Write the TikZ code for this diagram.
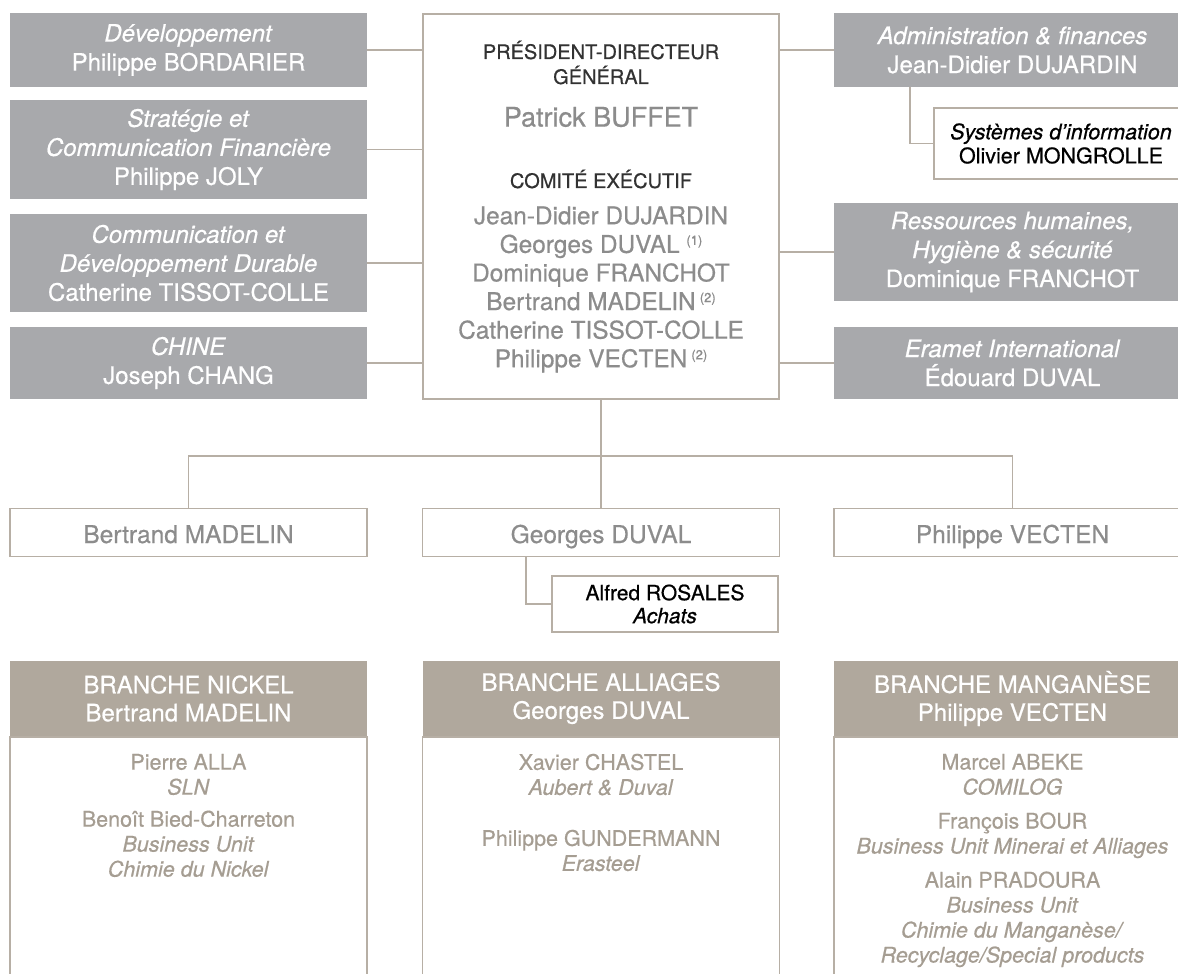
\documentclass[tikz,border=0pt]{standalone}
\usepackage{fontspec}
\setmainfont{TeX Gyre Heros}[FakeBold=0.6]
\usetikzlibrary{calc, positioning}

\definecolor{boxgray}{RGB}{168,169,172}
\definecolor{taupe}{RGB}{183,175,165}
\definecolor{headtaupe}{RGB}{176,168,157}
\definecolor{bodytaupe}{RGB}{165,157,146}
\definecolor{namegray}{RGB}{140,140,140}
\definecolor{darktext}{RGB}{50,50,50}

\newcommand{\comexnote}[1]{\raisebox{8pt}{\fontsize{13}{13}\selectfont(#1)}}

\begin{document}
\begin{tikzpicture}[x=1pt, y=-1pt,
        service/.style={rectangle, fill=boxgray, text=white, minimum width=357pt, inner sep=0pt, align=center, font=\fontsize{24}{29}\selectfont},
        mainbox/.style={rectangle, draw=taupe, line width=1.5pt, minimum width=356pt, minimum height=385pt, inner sep=0pt},
        subbox/.style={rectangle, draw=taupe, line width=1.5pt, fill=white, text=black, inner sep=0pt, align=center, font=\fontsize{21.5}{24}\selectfont},
        director/.style={rectangle, draw=taupe, line width=1.5pt, text=namegray, minimum width=357pt, minimum height=48pt, inner sep=0pt, text height=21pt, text depth=0pt, font=\fontsize{24.5}{26}\selectfont},
        headtext/.style={text=darktext, align=center, inner sep=0pt, font=\fontsize{20}{25}\selectfont},
        nametext/.style={text=namegray, align=center, inner sep=0pt, font=\fontsize{24.4}{28.6}\selectfont},
        branchhead/.style={rectangle, fill=headtaupe, text=white, minimum width=357pt, minimum height=75pt, inner sep=0pt, align=center, font=\fontsize{24}{28}\selectfont},
        branchbody/.style={rectangle, draw=taupe, line width=1.5pt, minimum width=357pt, minimum height=260pt, inner sep=0pt},
        branchtext/.style={text=bodytaupe, align=center, inner sep=0pt, font=\fontsize{21.5}{25}\selectfont},
        link/.style={draw=taupe, line width=1.5pt},
        ]

    \useasboundingbox (0, 0) rectangle (1178, 974);
    \clip (0, 0) rectangle (1178, 974);

    % left column
    \node (dev) at (188.5, 50) [service, minimum height=74pt] {\textit{Développement}\\Philippe BORDARIER};
    \node (strat) at (188.5, 149.5) [service, minimum height=99pt] {\textit{Stratégie et}\\\textit{Communication Financière}\\Philippe JOLY};
    \node (comdd) at (188.5, 263) [service, minimum height=98pt] {\textit{Communication et}\\\textit{Développement Durable}\\Catherine TISSOT-COLLE};
    \node (chine) at (188.5, 363) [service, minimum height=72pt] {\textit{CHINE}\\Joseph CHANG};

    % president and executive committee
    \node (pdg) at (601, 206.5) [mainbox] {};
    \node (pdgtitle) at (601, 62.5) [headtext] {PRÉSIDENT-DIRECTEUR\\GÉNÉRAL};
    \node (pdgname) at (601, 117) [nametext, font=\fontsize{27}{30}\selectfont] {Patrick BUFFET};
    \node (comex) at (601, 179) [headtext] {COMITÉ EXÉCUTIF};
    \node (comexlist) at (601, 289.5) [nametext] {Jean-Didier DUJARDIN\\Georges DUVAL \comexnote{1}\\Dominique FRANCHOT\\Bertrand MADELIN\,\comexnote{2}\\Catherine TISSOT-COLLE\\Philippe VECTEN\,\comexnote{2}};

    % right column
    \node (admin) at (1012.5, 50) [service, minimum height=74pt] {\textit{Administration \& finances}\\Jean-Didier DUJARDIN};
    \node (si) at (1061, 143.5) [subbox, minimum width=254pt, minimum height=71pt] {\textit{Systèmes d’information}\\Olivier MONGROLLE};
    \node (rh) at (1012.5, 252) [service, minimum height=98pt] {\textit{Ressources humaines,}\\\textit{Hygiène \& sécurité}\\Dominique FRANCHOT};
    \node (intl) at (1012.5, 363) [service, minimum height=72pt] {\textit{Eramet International}\\Édouard DUVAL};

    \draw [link] (dev.east) -- (dev.east -| pdg.west);
    \draw [link] (strat.east) -- (strat.east -| pdg.west);
    \draw [link] (comdd.east) -- (comdd.east -| pdg.west);
    \draw [link] (chine.east) -- (chine.east -| pdg.west);
    \draw [link] (admin.west -| pdg.east) -- (admin.west);
    \draw [link] (rh.west -| pdg.east) -- (rh.west);
    \draw [link] (intl.west -| pdg.east) -- (intl.west);
    \draw [link] ($(admin.south west) + (76, 0)$) |- (si.west);

    % operating directors
    \node (bm) at (188.5, 532.5) [director] {Bertrand MADELIN};
    \node (gd) at (601, 532.5) [director] {Georges DUVAL};
    \node (pv) at (1012.5, 532.5) [director] {Philippe VECTEN};
    \node (achats) at (665, 604) [subbox, minimum width=226pt, minimum height=56pt, font=\fontsize{21}{23}\selectfont] {Alfred ROSALES\\\textit{Achats}};

    \coordinate (hub) at (601, 456);
    \draw [link] (pdg.south) -- (gd.north);
    \draw [link] (bm.north) |- (hub) -| (pv.north);
    \draw [link] ($(gd.south west) + (104, 0)$) |- (achats.west);

    % branches
    \node (nihead) at (188.5, 698.5) [branchhead] {BRANCHE NICKEL\\Bertrand MADELIN};
    \node (nibody) [branchbody, below=0pt of nihead] {};
    \node (nistaff) at (188.5, 815.5) [branchtext] {Pierre ALLA\\\textit{SLN}\\[7pt]Benoît Bied-Charreton\\\textit{Business Unit}\\\textit{Chimie du Nickel}};

    \node (alhead) at (601, 698.5) [branchhead] {BRANCHE ALLIAGES\\Georges DUVAL};
    \node (albody) [branchbody, below=0pt of alhead] {};
    \node (alstaff) at (601, 812.5) [branchtext] {Xavier CHASTEL\\\textit{Aubert \& Duval}\\[26pt]Philippe GUNDERMANN\\\textit{Erasteel}};

    \node (mnhead) at (1012.5, 698.5) [branchhead] {BRANCHE MANGANÈSE\\Philippe VECTEN};
    \node (mnbody) [branchbody, below=0pt of mnhead] {};
    \node (mnstaff) at (1012.5, 860.5) [branchtext] {Marcel ABEKE\\\textit{COMILOG}\\[9pt]François BOUR\\\textit{Business Unit Minerai et Alliages}\\[9pt]Alain PRADOURA\\\textit{Business Unit}\\\textit{Chimie du Manganèse/}\\\textit{Recyclage/Special products}};
\end{tikzpicture}
\end{document}
